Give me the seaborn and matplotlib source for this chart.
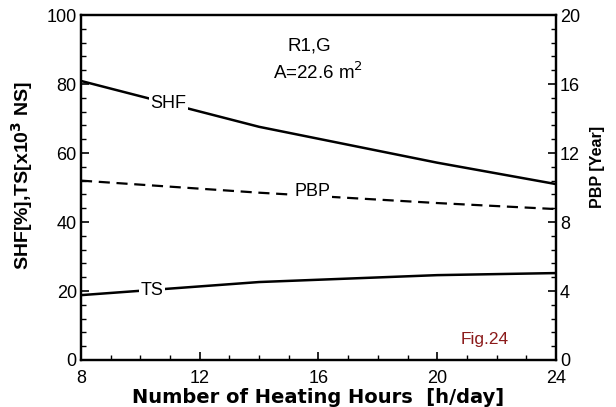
import matplotlib
matplotlib.use("Agg")
import matplotlib.pyplot as plt
import seaborn as sns
import pandas as pd
from matplotlib.ticker import MultipleLocator

sns.set_style("ticks")
plt.rcParams["font.family"] = ["Liberation Sans", "DejaVu Sans"]
plt.rcParams["text.color"] = "black"
plt.rcParams["axes.labelcolor"] = "black"
plt.rcParams["xtick.color"] = "black"
plt.rcParams["ytick.color"] = "black"

hours = [8, 14, 20, 24]
shf = [80.9, 67.6, 57.2, 51.0]
ts = [18.8, 22.6, 24.6, 25.2]
pbp = [10.4, 9.7, 9.1, 8.75]

df = pd.DataFrame({"hours": hours, "SHF": shf, "TS": ts, "PBP": pbp})

fig = plt.figure(figsize=(6.16, 4.07), dpi=100)
ax = fig.add_axes([0.1315, 0.1155, 0.771, 0.8475])
ax2 = ax.twinx()

sns.lineplot(data=df, x="hours", y="SHF", ax=ax, color="black", lw=1.8)
sns.lineplot(data=df, x="hours", y="TS", ax=ax, color="black", lw=1.8)
sns.lineplot(data=df, x="hours", y="PBP", ax=ax2, color="black", lw=1.6,
             linestyle=(0, (5, 3)))

ax.set_xlim(8, 24)
ax.set_ylim(0, 100)
ax2.set_ylim(0, 20)

ax.xaxis.set_major_locator(MultipleLocator(4))
ax.xaxis.set_minor_locator(MultipleLocator(1))
ax.yaxis.set_major_locator(MultipleLocator(20))
ax.yaxis.set_minor_locator(MultipleLocator(4))
ax2.yaxis.set_major_locator(MultipleLocator(4))
ax2.yaxis.set_minor_locator(MultipleLocator(0.8))

for a in (ax, ax2):
    a.tick_params(which="major", direction="in", length=6, width=1.2,
                  labelsize=13, pad=3, colors="black")
    a.tick_params(which="minor", direction="in", length=3.5, width=1.0,
                  colors="black")
    for s in a.spines.values():
        s.set_linewidth(1.6)
        s.set_color("black")
ax.tick_params(top=False, which="both")
ax.tick_params(axis="x", which="major", pad=7)
ax2.tick_params(top=False, which="both")

ax.set_xlabel("Number of Heating Hours  [h/day]", fontsize=14,
              fontweight="bold", family=["DejaVu Sans"], labelpad=1)
ax.set_ylabel(r"SHF[%],TS[x10$^\mathbf{3}$ NS]", fontsize=14,
              fontweight="bold")
ax.yaxis.set_label_coords(-0.097, 0.536)
ax2.set_ylabel("PBP [Year]", fontsize=11.5, fontweight="bold")
ax2.yaxis.set_label_coords(1.072, 0.56)

# Inline curve labels sitting on top of the lines
box = dict(facecolor="white", edgecolor="none", pad=1.0)
ax.text(10.95, 74.5, "SHF", fontsize=13, ha="center", va="center", bbox=box)
ax.text(10.4, 20.2, "TS", fontsize=13, ha="center", va="center", bbox=box)
ax2.text(15.8, 9.75, "PBP", fontsize=13, ha="center", va="center", bbox=box)

ax.text(15.7, 91.0, "R1,G", fontsize=13.5, ha="center", va="center")
ax.text(16.0, 83.5, r"A=22.6 m$^2$", fontsize=13.5, ha="center", va="center")
ax.text(21.6, 6.0, "Fig.24", fontsize=12.5, color="#8b1a1a",
        ha="center", va="center")

fig.savefig("out.png", dpi=100)
